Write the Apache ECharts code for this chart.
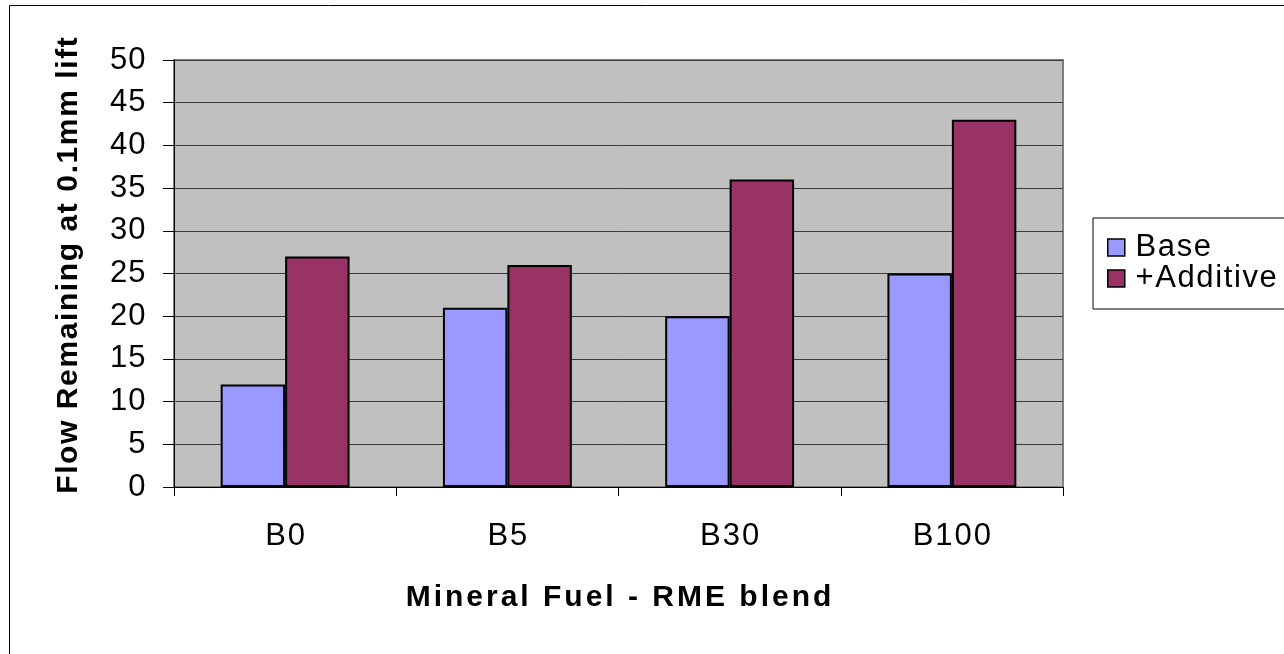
<!DOCTYPE html>
<html>
<head>
<meta charset="utf-8">
<script src="https://cdn.jsdelivr.net/npm/echarts@6/dist/echarts.min.js"></script>
<style>
  html, body { margin: 0; padding: 0; background: #fff; }
  #chart { width: 1284px; height: 654px; }
</style>
</head>
<body>
<div id="chart"></div>
<script>
// Flow remaining at 0.1mm lift for mineral fuel / RME blends
const categories = ['B0', 'B5', 'B30', 'B100'];
const baseValues = [12, 21, 20, 25];
const additiveValues = [27, 26, 36, 43];
const yTicks = [0, 5, 10, 15, 20, 25, 30, 35, 40, 45, 50];

const FONT = '"Liberation Sans", Arial, sans-serif';

// slightly open letter spacing: every character becomes its own padded rich-text token
function spaced(str, style) {
  return String(str).split('').map(function (ch) { return '{' + style + '|' + ch + '}'; }).join('');
}

const richStyles = {
  t:  { fontFamily: FONT, fontSize: 31, color: '#000', padding: [0, 0.5, 0, 0.5] },
  l:  { fontFamily: FONT, fontSize: 31, color: '#000', padding: [0, 0.8, 0, 0.8] },
  c:  { fontFamily: FONT, fontSize: 31, color: '#000', padding: [0, 1, 0, 1] },
  tb: { fontFamily: FONT, fontSize: 30, fontWeight: 'bold', color: '#000', padding: [0, 1.5, 0, 1.5] },
  yb: { fontFamily: FONT, fontSize: 30, fontWeight: 'bold', color: '#000', padding: [0, 0.8, 0, 0.8] }
};

const chart = echarts.init(document.getElementById('chart'), null, { renderer: 'canvas' });

chart.setOption({
  backgroundColor: '#ffffff',
  animation: false,
  graphic: [
    // outer chart frame
    { type: 'rect', shape: { x: 9.5, y: 5.5, width: 1300, height: 700 },
      style: { fill: 'none', stroke: '#000', lineWidth: 1 }, z: 0 }
  ],
  grid: {
    left: 174, right: 221, top: 60, bottom: 167,
    show: true, backgroundColor: '#c0c0c0', borderColor: '#808080', borderWidth: 2
  },
  legend: {
    orient: 'vertical',
    left: 1093, top: 218,
    padding: [14, 80, 15, 14],
    itemGap: 0,
    itemWidth: 17, itemHeight: 17,
    borderColor: '#000', borderWidth: 1,
    backgroundColor: '#fff',
    icon: 'rect',
    formatter: function (name) { return spaced(name, 'l'); },
    textStyle: { fontFamily: FONT, fontSize: 31, color: '#000', lineHeight: 31, padding: [0, 0, 0, 5], rich: richStyles },
    data: [
      { name: 'Base', itemStyle: { borderColor: '#000', borderWidth: 1.5 } },
      { name: '+Additive', itemStyle: { borderColor: '#000', borderWidth: 1.5 } }
    ]
  },
  xAxis: {
    type: 'category',
    data: categories,
    name: spaced('Mineral Fuel - RME blend', 'tb'),
    nameLocation: 'middle',
    nameGap: 96,
    nameTextStyle: { fontFamily: FONT, fontSize: 30, fontWeight: 'bold', color: '#000', rich: richStyles },
    axisLine: { lineStyle: { color: '#000', width: 1 } },
    axisTick: { show: true, length: 9, lineStyle: { color: '#000' } },
    axisLabel: {
      interval: 0,
      fontFamily: FONT, fontSize: 31, color: '#000', margin: 34,
      formatter: function (v) { return spaced(v, 'c'); },
      rich: richStyles
    },
    splitLine: { show: false }
  },
  yAxis: {
    type: 'value',
    min: yTicks[0], max: yTicks[yTicks.length - 1], interval: 5,
    name: spaced('Flow Remaining at 0.1mm lift', 'yb'),
    nameLocation: 'middle',
    nameGap: 90,
    nameRotate: 90,
    nameTextStyle: { fontFamily: FONT, fontSize: 30, fontWeight: 'bold', color: '#000', padding: [0, 0, 0, 16], rich: richStyles },
    axisLine: { show: true, lineStyle: { color: '#000', width: 1 } },
    axisTick: { show: true, length: 11, lineStyle: { color: '#000' } },
    axisLabel: {
      fontFamily: FONT, fontSize: 31, color: '#000', margin: 28,
      formatter: function (v) { return spaced(v, 't'); },
      rich: richStyles
    },
    splitLine: { show: true, lineStyle: { color: '#3a3a3a', width: 1 } }
  },
  series: [
    {
      name: 'Base', type: 'bar', data: baseValues,
      barGap: '0%', barCategoryGap: '42%',
      itemStyle: { color: '#9999ff', borderColor: '#000', borderWidth: 2 }
    },
    {
      name: '+Additive', type: 'bar', data: additiveValues,
      barGap: '0%', barCategoryGap: '42%',
      itemStyle: { color: '#993366', borderColor: '#000', borderWidth: 2 }
    }
  ]
});
</script>
</body>
</html>
